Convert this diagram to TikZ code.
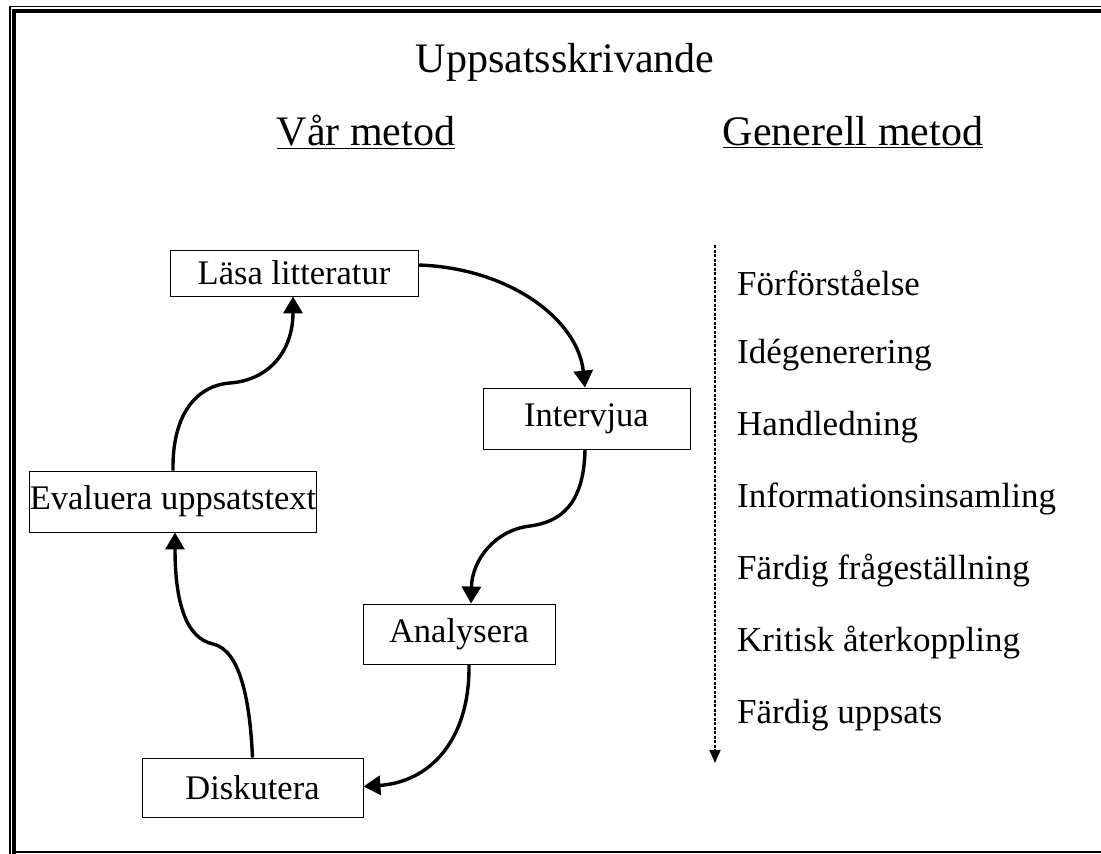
\documentclass[tikz,border=0pt]{standalone}
\usepackage{fontspec}
\setmainfont{Liberation Serif}
\usetikzlibrary{arrows.meta,calc}
\begin{document}
\begin{tikzpicture}[x=1pt,y=-1pt,
  box/.style={draw,line width=0.9pt,inner sep=0pt,font=\fontsize{34.5}{40}\selectfont},
  lbl/.style={inner sep=0pt,font=\fontsize{35}{40}\selectfont},
  head/.style={inner sep=0pt,font=\fontsize{42}{48}\selectfont},
  flow/.style={line width=3.4pt,-{Triangle[width=19pt,length=17pt]}},
]
\useasboundingbox (0,0) rectangle (1101,854);
\fill[white] (0,0) rectangle (1101,854);
% frame
\draw[line width=1.2pt] (10,854) -- (10,6.5) -- (1101,6.5);
\draw[line width=4pt] (14,854) -- (14,11) -- (1101,11);
\draw[line width=2pt] (14,852) -- (1101,852);
% headings
\node[head] (title) at (565,62) {Uppsatsskrivande};
\node[head] (var) at (366,132) {\underline{Vår metod}};
\node[head] (gen) at (853,132) {\underline{Generell metod}};
% boxes
\node[box,minimum width=248pt,minimum height=46pt] (lasa) at (294,273) {Läsa litteratur};
\node[box,minimum width=207pt,minimum height=61pt] (intv) at (586.5,418.5) {Intervjua};
\node[box,minimum width=286pt,minimum height=61pt] (eval) at (173,501.5) {Evaluera uppsatstext};
\node[box,minimum width=192pt,minimum height=60pt] (anal) at (459,634) {Analysera};
\node[box,minimum width=221pt,minimum height=59pt] (disk) at (252.5,787.5) {Diskutera};
% arrows
\draw[flow] ($(lasa.east)+(0,-8)$) .. controls (510,268) and (578,320) .. ($(intv.north)+(-1.5,0)$);
\draw[flow] ($(intv.south)+(-1.5,0)$) .. controls (584,505) and (560,522) .. (530,526) .. controls (495,530) and (472,560) .. ($(anal.north)+(12,0)$);
\draw[flow] ($(anal.south)+(10,0)$) .. controls (470,740) and (430,782) .. ($(disk.east)+(0,-1)$);
\draw[flow] (disk.north) .. controls (250,700) and (240,650) .. (213,644) .. controls (185,638) and (175,600) .. ($(eval.south)+(2,0)$);
\draw[flow] (eval.north) .. controls (172,410) and (200,385) .. (230,383) .. controls (270,380) and (293,350) .. ($(lasa.south)+(-1,0)$);
% general method list
\coordinate (gtop) at (715,245);
\coordinate (gbot) at (715,763);
\draw[line width=1.6pt,dash pattern=on 3pt off 1.5pt,-{Triangle[width=11pt,length=13pt]}] (gtop) -- (gbot);
\node[lbl,anchor=west] (g1) at (737,283) {Förförståelse};
\node[lbl,anchor=west] (g2) at (737,355) {Idégenerering};
\node[lbl,anchor=west] (g3) at (737,427) {Handledning};
\node[lbl,anchor=west] (g4) at (737,499) {Informationsinsamling};
\node[lbl,anchor=west] (g5) at (737,571) {Färdig frågeställning};
\node[lbl,anchor=west] (g6) at (737,643) {Kritisk återkoppling};
\node[lbl,anchor=west] (g7) at (737,715) {Färdig uppsats};
\end{tikzpicture}
\end{document}
